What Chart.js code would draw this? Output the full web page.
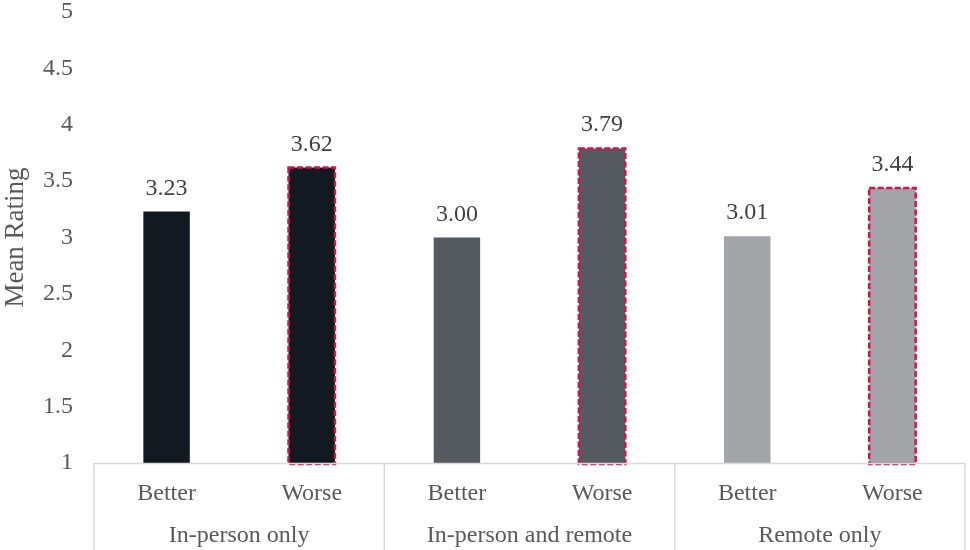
<!DOCTYPE html>
<html>
<head>
<meta charset="utf-8">
<script src="https://cdn.jsdelivr.net/npm/chart.js@4"></script>
<style>
	html, body { margin: 0; padding: 0; background: #fff; }
	#wrap { width: 970px; height: 550px; }
</style>
</head>
<body>
<div id="wrap"><canvas id="chart"></canvas></div>
<script>
// Mean rating by work arrangement, split by better / worse outcome
const groups = [ 'In-person only', 'In-person and remote', 'Remote only' ];
const outcomes = [ 'Better', 'Worse', 'Better', 'Worse', 'Better', 'Worse' ];
const meanRatings = [ 3.23, 3.62, 3.00, 3.79, 3.01, 3.44 ];
const barColors = [ '#121920', '#121920', '#555a61', '#555a61', '#a2a4a7', '#a2a4a7' ];
const dashedBars = [ false, true, false, true, false, true ];

const FONT = '"Liberation Serif", "Times New Roman", serif';
const TEXT = '#595959';
const LINE = '#d9d9d9';

// value labels, dashed outlines on the "Worse" bars, and the two-level category box
const decorations = {
	id: 'decorations',
	afterDatasetsDraw( chart ) {
		const { ctx, chartArea } = chart;
		const meta = chart.getDatasetMeta( 0 );
		ctx.save();
		meta.data.forEach( ( bar, i ) => {
			const { x, y, width } = bar.getProps( [ 'x', 'y', 'width' ], true );
			const base = chartArea.bottom;
			if ( dashedBars[ i ] ) {
				ctx.strokeStyle = '#d41448';
				ctx.lineWidth = 2.5;
				ctx.setLineDash( [ 6, 2.5 ] );
				ctx.strokeRect( x - width / 2, y, width, base - y + 1 );
				ctx.setLineDash( [] );
			}
			ctx.fillStyle = '#404040';
			ctx.font = '24px ' + FONT;
			ctx.textAlign = 'center';
			ctx.textBaseline = 'alphabetic';
			ctx.fillText( meanRatings[ i ].toFixed( 2 ), x, y - 17 );
		} );
		ctx.restore();
	},
	afterDraw( chart ) {
		const { ctx, chartArea, scales } = chart;
		const xs = scales.x;
		const bottom = chart.height;
		ctx.save();
		ctx.strokeStyle = LINE;
		ctx.lineWidth = 1.5;
		ctx.beginPath();
		ctx.moveTo( chartArea.left, chartArea.bottom + 0.5 );
		ctx.lineTo( chartArea.right, chartArea.bottom + 0.5 );
		const edges = [ chartArea.left ];
		for ( let g = 1; g < groups.length; g++ ) {
			edges.push( ( xs.getPixelForValue( g * 2 - 1 ) + xs.getPixelForValue( g * 2 ) ) / 2 );
		}
		edges.push( chartArea.right );
		edges.forEach( ex => {
			ctx.moveTo( ex, chartArea.bottom );
			ctx.lineTo( ex, bottom );
		} );
		ctx.stroke();

		ctx.fillStyle = TEXT;
		ctx.font = '24px ' + FONT;
		ctx.textAlign = 'center';
		ctx.textBaseline = 'alphabetic';
		outcomes.forEach( ( label, i ) => {
			ctx.fillText( label, xs.getPixelForValue( i ), chartArea.bottom + 37 );
		} );
		groups.forEach( ( label, g ) => {
			const cx = ( xs.getPixelForValue( g * 2 ) + xs.getPixelForValue( g * 2 + 1 ) ) / 2;
			ctx.fillText( label, cx, chartArea.bottom + 79 );
		} );
		ctx.restore();
	}
};

new Chart( document.getElementById( 'chart' ), {
	type: 'bar',
	data: {
		labels: outcomes,
		datasets: [ {
			data: meanRatings,
			backgroundColor: barColors,
			borderWidth: 0,
			barPercentage: 0.32,
			categoryPercentage: 1
		} ]
	},
	plugins: [ decorations ],
	options: {
		responsive: true,
		maintainAspectRatio: false,
		animation: false,
		layout: { padding: { top: 0, right: 5, left: 0, bottom: 0 } },
		plugins: {
			legend: { display: false },
			tooltip: { enabled: false }
		},
		scales: {
			x: {
				grid: { display: false },
				border: { display: false },
				ticks: { display: false },
				afterFit( scale ) { scale.height = 87; }
			},
			y: {
				min: 1,
				max: 5,
				grid: { display: false, drawTicks: false },
				border: { display: false },
				ticks: {
					stepSize: 0.5,
					padding: 21,
					color: TEXT,
					font: { family: FONT, size: 24 },
					callback: v => String( v )
				},
				title: {
					display: true,
					text: 'Mean Rating',
					color: TEXT,
					font: { family: FONT, size: 27 },
					padding: { top: 0, bottom: 0 }
				},
				afterFit( scale ) {
					// tick padding is horizontal only here; keep the top label tight
					scale.width = 94;
					scale.paddingTop = 12;
					scale.paddingBottom = 0;
				}
			}
		}
	}
} );
</script>
</body>
</html>
